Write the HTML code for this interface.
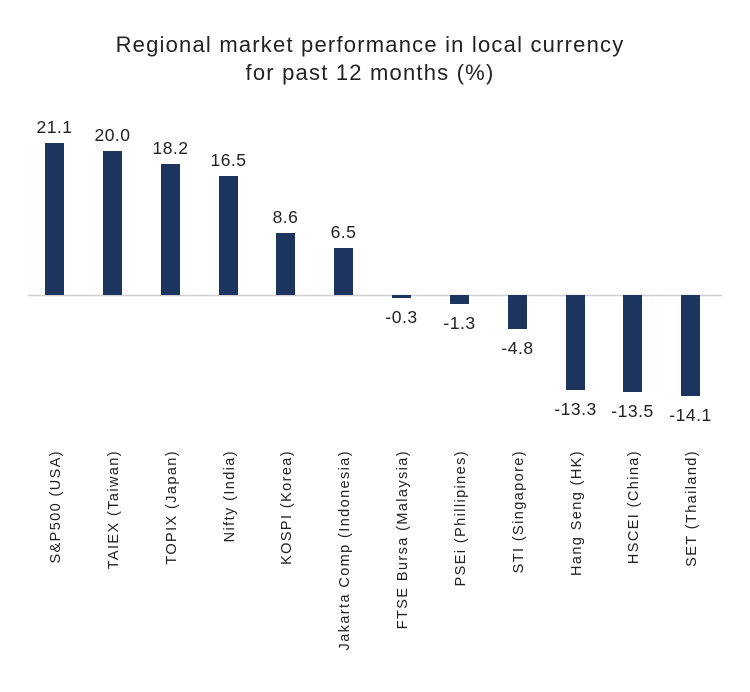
<!DOCTYPE html>
<html><head><style>body{margin:0;background:#fff}</style></head><body>
<svg width="750" height="687" xmlns="http://www.w3.org/2000/svg" font-family="Liberation Sans, sans-serif">
<text x="370" y="52" text-anchor="middle" font-size="22" letter-spacing="1.2" fill="#222">Regional market performance in local currency</text>
<text x="370" y="80" text-anchor="middle" font-size="22" letter-spacing="1.2" fill="#222">for past 12 months (%)</text>
<line x1="28" y1="295.5" x2="722" y2="295.5" stroke="#d0d0d0" stroke-width="1.5"/>
<g fill="#1b355e">
<rect x="45" y="143" width="19" height="152"/>
<rect x="103" y="151" width="19" height="144"/>
<rect x="161" y="164" width="19" height="131"/>
<rect x="219" y="176" width="19" height="119"/>
<rect x="276" y="233" width="19" height="62"/>
<rect x="334" y="248" width="19" height="47"/>
<rect x="392" y="295" width="19" height="3"/>
<rect x="450" y="295" width="19" height="9"/>
<rect x="508" y="295" width="19" height="34"/>
<rect x="566" y="295" width="19" height="95"/>
<rect x="623" y="295" width="19" height="97"/>
<rect x="681" y="295" width="19" height="101"/>
</g>
<g font-size="17.5" fill="#222" text-anchor="middle" letter-spacing="0.5">
<text x="54.5" y="133">21.1</text>
<text x="112.5" y="141">20.0</text>
<text x="170.5" y="154">18.2</text>
<text x="228.5" y="166">16.5</text>
<text x="285.5" y="223">8.6</text>
<text x="343.5" y="238">6.5</text>
<text x="401.5" y="323">-0.3</text>
<text x="459.5" y="329">-1.3</text>
<text x="517.5" y="354">-4.8</text>
<text x="575.5" y="415">-13.3</text>
<text x="632.5" y="417">-13.5</text>
<text x="690.5" y="421">-14.1</text>
</g>
<g font-size="14.5" fill="#222" text-anchor="end" letter-spacing="1.4">
<text transform="translate(60,450) rotate(-90)">S&amp;P500 (USA)</text>
<text transform="translate(118,450) rotate(-90)">TAIEX (Taiwan)</text>
<text transform="translate(176,450) rotate(-90)">TOPIX (Japan)</text>
<text transform="translate(234,450) rotate(-90)">Nifty (India)</text>
<text transform="translate(291,450) rotate(-90)">KOSPI (Korea)</text>
<text transform="translate(349,450) rotate(-90)">Jakarta Comp (Indonesia)</text>
<text transform="translate(407,450) rotate(-90)">FTSE Bursa (Malaysia)</text>
<text transform="translate(465,450) rotate(-90)">PSEi (Phillipines)</text>
<text transform="translate(523,450) rotate(-90)">STI (Singapore)</text>
<text transform="translate(581,450) rotate(-90)">Hang Seng (HK)</text>
<text transform="translate(638,450) rotate(-90)">HSCEI (China)</text>
<text transform="translate(696,450) rotate(-90)">SET (Thailand)</text>
</g>
</svg>
</body></html>
